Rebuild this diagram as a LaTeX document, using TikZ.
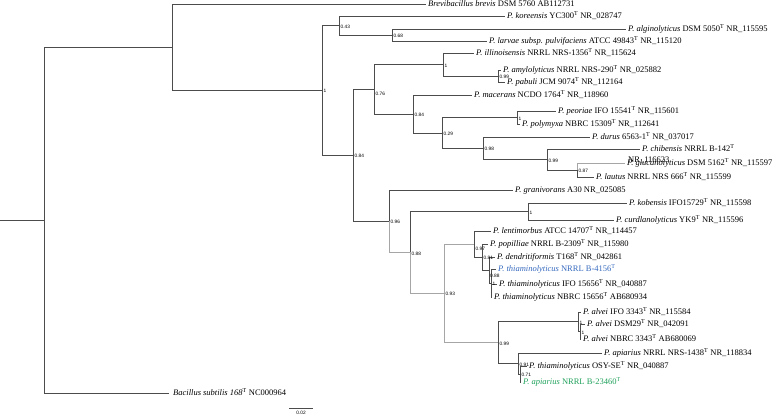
\documentclass[tikz,border=0pt]{standalone}
\usepackage{fontspec}
\usetikzlibrary{calc}
\setmainfont{Liberation Serif}
\newfontfamily\labfont{Liberation Sans}
\definecolor{bluelab}{RGB}{52,104,190}
\definecolor{greenlab}{RGB}{30,160,90}
\begin{document}
\begin{tikzpicture}[x=1pt,y=-1pt,
  br/.style={draw=black!70, line width=0.6pt},
  brl/.style={draw=black!35, line width=0.6pt},
  lf/.style={anchor=west, inner xsep=2pt, inner ysep=0pt, font=\fontsize{8.5}{9}\selectfont, text height=5.6pt, text depth=0pt},
  bs/.style={anchor=west, inner sep=0pt, font=\labfont\fontsize{4.8}{5}\selectfont}]
\useasboundingbox (0,0) rectangle (777,419);
% internal nodes
\coordinate (rs) at (0,220.1);
\coordinate (root) at (44,220.1);
\coordinate (A) at (172,47.2);
\coordinate (N1) at (322,90.35);
\coordinate (N043) at (339,25.5);
\coordinate (N068) at (392,35);
\coordinate (N084a) at (353,155.2);
\coordinate (N076) at (374,89.2);
\coordinate (Nill) at (443,64.5);
\coordinate (Namy) at (498,76);
\coordinate (N084b) at (413,113.9);
\coordinate (N029) at (442,132.9);
\coordinate (Npeo) at (517,117.5);
\coordinate (N098) at (483,148.25);
\coordinate (N099) at (547,159.5);
\coordinate (N087) at (577,170);
\coordinate (N096) at (389,221.2);
\coordinate (N088) at (410,252.4);
\coordinate (Nkob) at (528,211.5);
\coordinate (N093) at (444,293.3);
\coordinate (N097) at (474,244);
\coordinate (N081) at (482,257);
\coordinate (N088c) at (489,270);
\coordinate (N1c) at (491,283);
\coordinate (N099b) at (498,342.6);
\coordinate (Nalv) at (578,321.75);
\coordinate (Nalv2) at (580,331.5);
\coordinate (N091) at (518,363.5);
\coordinate (N071) at (520,374);
% leaves
\node[lf] (brevi) at (426,4) {\textit{Brevibacillus brevis} DSM 5760 AB112731};
\node[lf] (kor) at (505,16) {\textit{P. koreensis} YC300\textsuperscript{T} NR\_028747};
\node[lf] (alg) at (626,29) {\textit{P. alginolyticus} DSM 5050\textsuperscript{T} NR\_115595};
\node[lf] (larv) at (487,41) {\textit{P. larvae subsp. pulvifaciens} ATCC 49843\textsuperscript{T} NR\_115120};
\node[lf] (ill) at (474,53) {\textit{P. illinoisensis} NRRL NRS-1356\textsuperscript{T} NR\_115624};
\node[lf] (amy) at (501,70) {\textit{P. amylolyticus} NRRL NRS-290\textsuperscript{T} NR\_025882};
\node[lf] (pab) at (505,82) {\textit{P. pabuli} JCM 9074\textsuperscript{T} NR\_112164};
\node[lf] (mac) at (472,95) {\textit{P. macerans} NCDO 1764\textsuperscript{T} NR\_118960};
\node[lf] (peo) at (556,111) {\textit{P. peoriae} IFO 15541\textsuperscript{T} NR\_115601};
\node[lf] (pol) at (520,124) {\textit{P. polymyxa} NBRC 15309\textsuperscript{T} NR\_112641};
\node[lf] (dur) at (590,137) {\textit{P. durus} 6563-1\textsuperscript{T} NR\_037017};
\node[lf] (chi) at (640,149) {\textit{P. chibensis} NRRL B-142\textsuperscript{T}};
\node[lf] (chib) at (626,160) {NR\_116623};
\node[lf] (glu) at (625,163) {\textit{P. glucanolyticus} DSM 5162\textsuperscript{T} NR\_115597};
\node[lf] (lau) at (594,177) {\textit{P. lautus} NRRL NRS 666\textsuperscript{T} NR\_115599};
\node[lf] (gran) at (513,190) {\textit{P. granivorans} A30 NR\_025085};
\node[lf] (kob) at (627,203) {\textit{P. kobensis} IFO15729\textsuperscript{T} NR\_115598};
\node[lf] (cur) at (614,220) {\textit{P. curdlanolyticus} YK9\textsuperscript{T} NR\_115596};
\node[lf] (len) at (491,231) {\textit{P. lentimorbus} ATCC 14707\textsuperscript{T} NR\_114457};
\node[lf] (pop) at (488,244) {\textit{P. popilliae} NRRL B-2309\textsuperscript{T} NR\_115980};
\node[lf] (den) at (495,257) {\textit{P. dendritiformis} T168\textsuperscript{T} NR\_042861};
\node[lf, text=bluelab] (blue) at (496,269) {\textit{P. thiaminolyticus} NRRL B-4156\textsuperscript{T}};
\node[lf] (ifo) at (497,284) {\textit{P. thiaminolyticus} IFO 15656\textsuperscript{T} NR\_040887};
\node[lf] (nbrc) at (492,297) {\textit{P. thiaminolyticus} NBRC 15656\textsuperscript{T} AB680934};
\node[lf] (alvI) at (581,312) {\textit{P. alvei} IFO 3343\textsuperscript{T} NR\_115584};
\node[lf] (alvD) at (585,324) {\textit{P. alvei} DSM29\textsuperscript{T} NR\_042091};
\node[lf] (alvN) at (581,339) {\textit{P. alvei} NBRC 3343\textsuperscript{T} AB680069};
\node[lf] (api) at (602,353) {\textit{P. apiarius} NRRL NRS-1438\textsuperscript{T} NR\_118834};
\node[lf] (osy) at (527,366) {\textit{P. thiaminolyticus} OSY-SE\textsuperscript{T} NR\_040887};
\node[lf, text=greenlab] (grn) at (521,382) {\textit{P. apiarius} NRRL B-23460\textsuperscript{T}};
\node[lf, inner xsep=4pt] (bac) at (169,393) {\textit{Bacillus subtilis 168}\textsuperscript{T} NC000964};
% branches
\draw[br] (rs) -- (root);
\draw[br] (root) |- (A);
\draw[br] (root) |- (bac.west);
\draw[br] (A) |- (brevi.west);
\draw[br] (A) |- (N1);
\draw[br] (N1) |- (N043);
\draw[br] (N1) |- (N084a);
\draw[br] (N043) |- (kor.west);
\draw[br] (N043) |- (N068);
\draw[br] (N068) |- (alg.west);
\draw[br] (N068) |- (larv.west);
\draw[br] (N084a) |- (N076);
\draw[br] (N084a) |- (N096);
\draw[br] (N076) |- (Nill);
\draw[br] (N076) |- (N084b);
\draw[br] (Nill) |- (ill.west);
\draw[br] (Nill) |- (Namy);
\draw[br] (Namy) |- (amy.west);
\draw[br] (Namy) |- (pab.west);
\draw[br] (N084b) |- (mac.west);
\draw[br] (N084b) |- (N029);
\draw[br] (N029) |- (Npeo);
\draw[br] (N029) |- (N098);
\draw[br] (Npeo) |- (peo.west);
\draw[br] (Npeo) |- (pol.west);
\draw[br] (N098) |- (dur.west);
\draw[br] (N098) |- (N099);
\draw[br] (N099) |- (chi.west);
\draw[br] (N099) |- (N087);
\draw[brl] (N087) |- (glu.west);
\draw[br] (N087) |- (lau.west);
\draw[br] (N096) |- (gran.west);
\draw[brl] (N096) |- (N088);
\draw[br] (N088) |- (Nkob);
\draw[brl] (N088) |- (N093);
\draw[br] (Nkob) |- (kob.west);
\draw[br] (Nkob) |- (cur.west);
\draw[brl] (N093) |- (N097);
\draw[brl] (N093) |- (N099b);
\draw[br] (N097) |- (len.west);
\draw[br] (N097) |- (N081);
\draw[br] (N081) |- (pop.west);
\draw[br] (N081) |- (N088c);
\draw[br] (N088c) |- (den.west);
\draw[br] (N088c) |- (N1c);
\draw[br] (N1c) |- (blue.west);
\draw[br] (N1c) |- (ifo.west);
\draw[br] (N1c) |- (nbrc.west);
\draw[br] (N099b) |- (Nalv);
\draw[br] (N099b) |- (N091);
\draw[br] (Nalv) |- (alvI.west);
\draw[br] (Nalv) |- (Nalv2);
\draw[br] (Nalv2) |- (alvD.west);
\draw[br] (Nalv2) |- (alvN.west);
\draw[br] (N091) |- (api.west);
\draw[br] (N091) |- (N071);
\draw[br] (N071) |- (osy.west);
\draw[br] (N071) |- (grn.west);
% support values
\foreach \n/\t in {N1/1,N043/0.43,N068/0.68,Nill/1,Namy/0.99,N084b/0.84,N029/0.29,Npeo/1,N098/0.98,N099/0.99,N087/0.87,N084a/0.84,N096/0.96,N088/0.88,Nkob/1,N093/0.93,N081/0.81,N1c/1,N099b/0.99,Nalv/1,Nalv2/1,N091/0.91,N071/0.71}
  \node[bs] (l\n) at ([xshift=1.5pt,yshift=-1pt]\n) {\t};
\node[bs] (lN076) at ([xshift=1.5pt,yshift=-5pt]N076) {0.76};
\node[bs] (lN097) at ([xshift=1.5pt,yshift=-5pt]N097) {0.97};
\node[bs] (lN088c) at ([xshift=1pt,yshift=-6pt]N088c) {0.88};
% scale bar
\coordinate (sb1) at (289,408);
\coordinate (sb2) at (313,408);
\draw[br] (sb1) -- (sb2);
\node[bs, anchor=north] (sbl) at ([yshift=-3pt]$(sb1)!0.5!(sb2)$) {0.02};
\end{tikzpicture}
\end{document}
